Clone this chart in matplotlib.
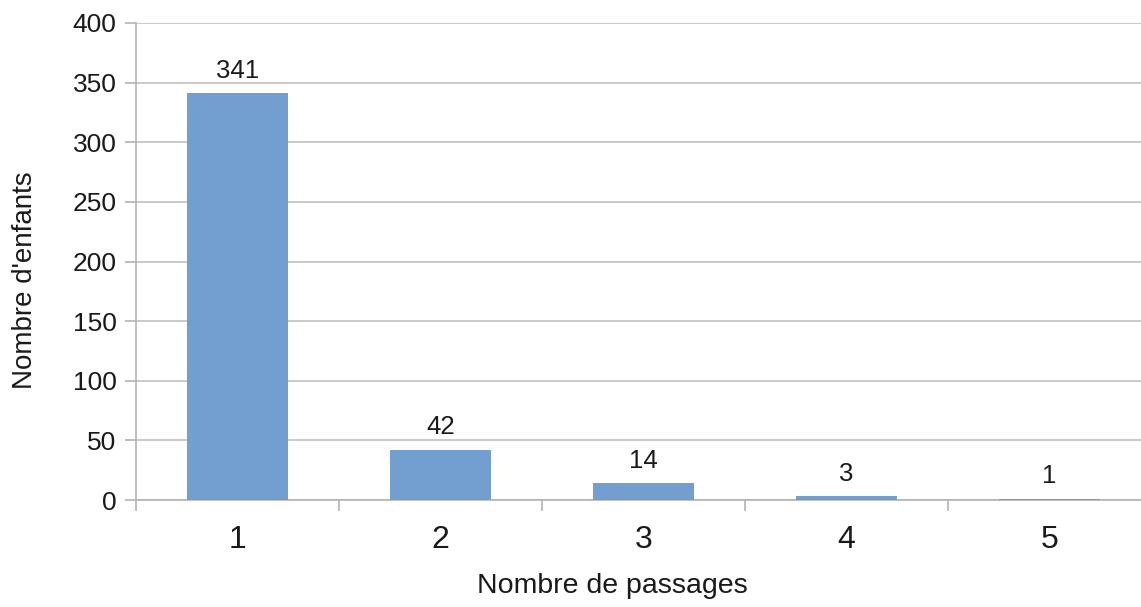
import matplotlib
matplotlib.use("Agg")
import matplotlib.pyplot as plt
from matplotlib.ticker import FixedLocator, MultipleLocator

categories = ["1", "2", "3", "4", "5"]
counts = [341, 42, 14, 3, 1]

plt.rcParams["font.family"] = ["Liberation Sans", "DejaVu Sans"]

grey = "#b3b3b3"
bar_color = "#729fcf"
text_color = "#1a1a1a"

fig = plt.figure(figsize=(11.41, 6.07), dpi=100)
ax = fig.add_axes([136 / 1141, 107 / 607, 1015 / 1141, 477 / 607])

x = list(range(1, len(categories) + 1))
ax.bar(x, counts, width=0.5, color=bar_color, zorder=3)

for xi, v in zip(x, counts):
    ax.annotate(str(v), (xi, v), xytext=(0, 7.5), textcoords="offset points",
                ha="center", va="bottom", fontsize=18.5, color=text_color)

ax.set_xlim(0.5, len(categories) + 0.5)
ax.set_ylim(0, 400)
ax.yaxis.set_major_locator(MultipleLocator(50))

ax.set_xticks(x)
ax.set_xticklabels(categories)
ax.xaxis.set_minor_locator(FixedLocator([i + 0.5 for i in range(0, len(categories) + 1)]))
ax.tick_params(axis="x", which="major", length=0, pad=18, labelsize=23, labelcolor=text_color)
ax.tick_params(axis="x", which="minor", length=8, width=1.2, color=grey)
ax.tick_params(axis="y", length=8, width=1.2, color=grey, pad=6, labelsize=19, labelcolor=text_color)

ax.grid(axis="y", color="#c0c0c0", linewidth=1.2, zorder=0)
for side in ("top", "right"):
    ax.spines[side].set_visible(False)
for side in ("left", "bottom"):
    ax.spines[side].set_color(grey)
    ax.spines[side].set_linewidth(1.2)

ax.set_xlabel("Nombre de passages", fontsize=20.5, color=text_color)
ax.set_ylabel("Nombre d'enfants", fontsize=20, color=text_color)
ax.xaxis.set_label_coords((612 - 136) / 1015, -(573 - 500) / 477)
ax.yaxis.set_label_coords(-(136 - 38) / 1015, (500 - 280) / 477)

fig.savefig("out.png", dpi=100)
